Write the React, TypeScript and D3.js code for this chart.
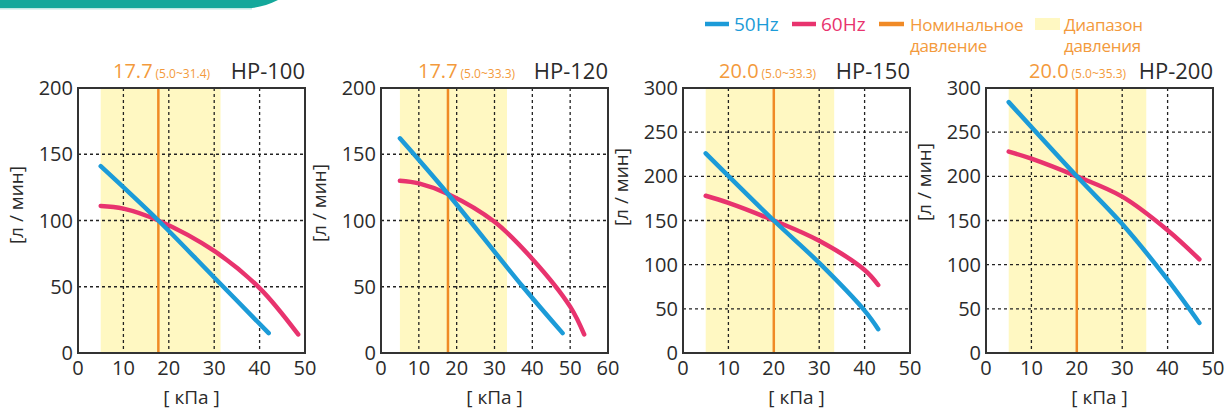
import * as d3 from 'd3';

// ---- data ----
const models = ['HP-100', 'HP-120', 'HP-150', 'HP-200'];
const xMaxes = [50, 60, 50, 50];
const yMaxes = [200, 200, 300, 300];
const nominal = [17.7, 17.7, 20.0, 20.0];
const rangeLow = [5.0, 5.0, 5.0, 5.0];
const rangeHigh = [31.4, 33.3, 33.3, 35.3];

// 50Hz curves: pressure [кПа] / flow [л/мин]
const p50 = [
  [5, 17.7, 30, 42],
  [5, 17.7, 37.5, 48],
  [5, 20, 30, 40, 43],
  [5, 20, 30, 40, 47],
];
const q50 = [
  [141, 100, 57, 15],
  [162, 120, 50, 15],
  [226, 150, 102, 48, 27],
  [284, 200, 146, 83, 34],
];

// 60Hz curves
const p60 = [
  [5, 10, 17.7, 30, 40, 48.5],
  [5, 10, 17.7, 30, 40, 50, 53.7],
  [5, 10, 20, 30, 40, 43],
  [5, 10, 20, 30, 40, 47],
];
const q60 = [
  [111, 109, 100, 77, 49, 14],
  [130, 128, 120, 99, 71, 35, 14],
  [178, 170, 150, 127, 94, 77],
  [228, 220, 200, 177, 139, 106],
];

const legendLabels = ['50Hz', '60Hz'];

// ---- layout ----
const W = 1227;
const H = 409;
const plotLefts = [78, 381, 683, 986];
const plotW = 227;
const plotTop = 88;
const plotBottom = 353;
const yLabelCenters = [205, 203, 187, 182];
const rangeLabelOffsets = [35, 37, 36, 43];

const BLUE = '#1c9bd8';
const PINK = '#e8336e';
const ORANGE = '#f08a26';
const ORANGE_TEXT = '#f39a3c';
const YELLOW = '#fff8c2';
const TEXT = '#2b2b2b';
const FONT = '"Open Sans", "Noto Sans", sans-serif';

const Panel = ({ i }: { i: number }) => {
  const left = plotLefts[i];
  const right = left + plotW;
  const x = d3.scaleLinear().domain([0, xMaxes[i]]).range([left, right]);
  const y = d3.scaleLinear().domain([0, yMaxes[i]]).range([plotBottom, plotTop]);
  const xTicks = d3.range(0, xMaxes[i] + 1, 10);
  const yTicks = d3.range(0, yMaxes[i] + 1, 50);

  const line = d3
    .line<[number, number]>()
    .x((d) => x(d[0]))
    .y((d) => y(d[1]))
    .curve(d3.curveCatmullRom.alpha(0.5));

  const pts50 = p50[i].map((p, k) => [p, q50[i][k]] as [number, number]);
  const pts60 = p60[i].map((p, k) => [p, q60[i][k]] as [number, number]);

  return (
    <g>
      {/* pressure range band */}
      <rect
        x={x(rangeLow[i])}
        y={plotTop}
        width={x(rangeHigh[i]) - x(rangeLow[i])}
        height={plotBottom - plotTop}
        fill={YELLOW}
      />
      {/* dotted grid */}
      {xTicks.slice(1, -1).map((t) => (
        <line
          key={'gx' + t}
          x1={x(t)}
          x2={x(t)}
          y1={plotTop}
          y2={plotBottom}
          stroke="#222"
          strokeWidth={1.3}
          strokeDasharray="3,3"
        />
      ))}
      {yTicks.slice(1, -1).map((t) => (
        <line
          key={'gy' + t}
          x1={left}
          x2={right}
          y1={y(t)}
          y2={y(t)}
          stroke="#222"
          strokeWidth={1.3}
          strokeDasharray="3,3"
        />
      ))}
      {/* nominal pressure */}
      <line
        x1={x(nominal[i])}
        x2={x(nominal[i])}
        y1={plotTop}
        y2={plotBottom}
        stroke={ORANGE}
        strokeWidth={2.5}
      />
      <path d={line(pts60) ?? ''} fill="none" stroke={PINK} strokeWidth={4.5} strokeLinecap="round" />
      <path d={line(pts50) ?? ''} fill="none" stroke={BLUE} strokeWidth={4.5} strokeLinecap="round" />
      <rect
        x={left}
        y={plotTop}
        width={plotW}
        height={plotBottom - plotTop}
        fill="none"
        stroke="#333"
        strokeWidth={2}
      />
      {/* tick labels */}
      {xTicks.map((t) => (
        <text key={'tx' + t} x={x(t)} y={plotBottom + 22} textAnchor="middle" fontSize={20} fill={TEXT}>
          {t}
        </text>
      ))}
      {yTicks.map((t) => (
        <text key={'ty' + t} x={left - 5} y={y(t) + 7} textAnchor="end" fontSize={20} fill={TEXT}>
          {t}
        </text>
      ))}
      <text
        transform={`translate(${left - 55},${yLabelCenters[i]}) rotate(-90)`}
        textAnchor="middle"
        fontSize={19}
        fill={TEXT}
      >
        [л / мин]
      </text>
      <text x={(left + right) / 2} y={plotBottom + 51} textAnchor="middle" fontSize={19} fill={TEXT}>
        [ кПа ]
      </text>
      <text x={right} y={79} textAnchor="end" fontSize={22} fill={TEXT}>
        {models[i]}
      </text>
      <text x={left + rangeLabelOffsets[i]} y={78} fill={ORANGE_TEXT}>
        <tspan fontSize={20}>{nominal[i].toFixed(1)}</tspan>
        <tspan fontSize={12} dx={3}>
          ({rangeLow[i].toFixed(1)}~{rangeHigh[i].toFixed(1)})
        </tspan>
      </text>
    </g>
  );
};

export default function App() {
  return (
    <svg
      width={W}
      height={H}
      style={{ position: 'absolute', left: 0, top: 0, background: '#fff' }}
      fontFamily={FONT}
    >
      {/* header strip */}
      <path d="M0,0 H278 C268,5 258,8 248,8 H0 Z" fill="#14a89b" />
      <rect x={0} y={8} width={252} height={1.5} fill="#bfe8e3" />

      {/* legend */}
      <line x1={705} x2={729} y1={24} y2={24} stroke={BLUE} strokeWidth={4.5} />
      <text x={734} y={31} fontSize={19} fill={BLUE}>
        {legendLabels[0]}
      </text>
      <line x1={792} x2={816} y1={24} y2={24} stroke={PINK} strokeWidth={4.5} />
      <text x={821} y={31} fontSize={19} fill={PINK}>
        {legendLabels[1]}
      </text>
      <line x1={879} x2={904} y1={24} y2={24} stroke={ORANGE} strokeWidth={4.5} />
      <text fontSize={17} fill={ORANGE_TEXT} letterSpacing={-0.3}>
        <tspan x={910} y={31}>Номинальное</tspan>
        <tspan x={910} y={52}>давление</tspan>
      </text>
      <rect x={1035} y={18} width={25} height={12} fill={YELLOW} />
      <text fontSize={17} fill={ORANGE_TEXT} letterSpacing={-0.3}>
        <tspan x={1064} y={31}>Диапазон</tspan>
        <tspan x={1064} y={52}>давления</tspan>
      </text>

      {models.map((_, i) => (
        <Panel key={i} i={i} />
      ))}
    </svg>
  );
}
